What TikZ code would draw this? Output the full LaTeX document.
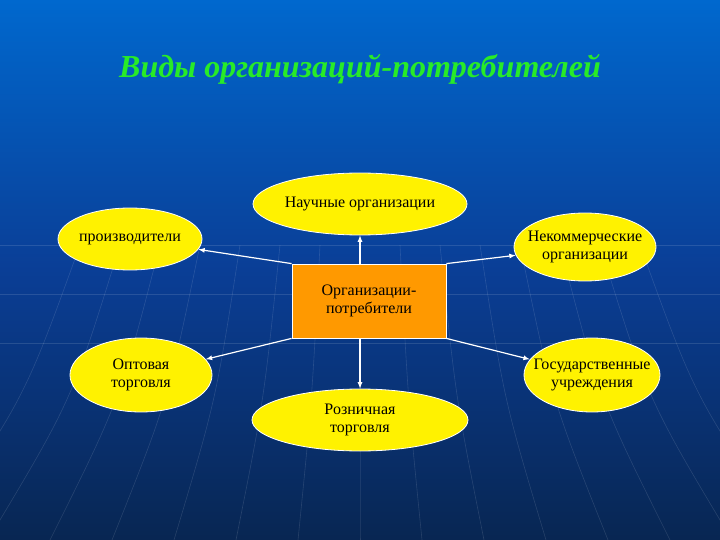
\documentclass[tikz,border=0pt]{standalone}
\usepackage{fontspec}
\setmainfont{Liberation Serif}
\usetikzlibrary{arrows,shapes.geometric}

\definecolor{bgtop}{RGB}{0,104,206}
\definecolor{bgmid}{RGB}{10,62,150}
\definecolor{bgbot}{RGB}{8,38,82}
\definecolor{titlegreen}{RGB}{40,235,40}
\definecolor{hubfill}{RGB}{255,153,0}

\begin{document}
\begin{tikzpicture}[x=1pt, y=-1pt,
	oval/.style={ellipse, draw=white, fill=yellow, line width=0.8pt, inner xsep=-14pt, inner ysep=-6pt, align=center, font=\fontsize{16}{18}\selectfont},
	hub/.style={rectangle, draw=white, fill=hubfill, line width=0.8pt, minimum width=154, minimum height=74, align=center, font=\fontsize{16}{18}\selectfont},
	link/.style={->, >=latex, draw=white, line width=1.2pt},
	grid/.style={white, opacity=0.12, line width=0.6pt}]
		\useasboundingbox (0,0) rectangle (720,540);
		\shade[top color=bgtop, bottom color=bgbot, middle color=bgmid] (0,0) rectangle (720,540);
		% faint globe lines
		\foreach \y in {245,294,343}
			\draw[grid] (0,\y) -- (720,\y);
		\foreach \k in {-7,...,7}
			\draw[grid] (360+\k*40,245) .. controls (360+\k*48,400) .. (360+\k*62,540);

		\node[font=\fontsize{32}{36}\selectfont\bfseries\itshape, text=titlegreen] (title) at (360,69) {Виды организаций-потребителей};

		\node[hub] (ctr) at (369,301) {Организации-\\потребители};
		\node[oval, minimum width=214, minimum height=62] (sci) at (360,204) {Научные организации};
		\node[oval, minimum width=144, minimum height=62] (prod) at (130,239) {производители};
		\node[oval, minimum width=142, minimum height=68] (nonc) at (585,247) {Некоммерческие\\организации};
		\node[oval, minimum width=142, minimum height=74] (whole) at (141,375) {Оптовая\\торговля};
		\node[oval, minimum width=136, minimum height=74] (gov) at (592,375) {Государственные\\учреждения};
		\node[oval, minimum width=216, minimum height=62] (retail) at (360,420) {Розничная\\торговля};

		\draw[link] (ctr.north -| sci) -- (sci);
		\draw[link] (ctr.north west) -- (prod);
		\draw[link] (ctr.north east) -- (nonc);
		\draw[link] (ctr.south west) -- (whole);
		\draw[link] (ctr.south east) -- (gov);
		\draw[link] (ctr.south -| retail) -- (retail);
	\end{tikzpicture}
\end{document}
